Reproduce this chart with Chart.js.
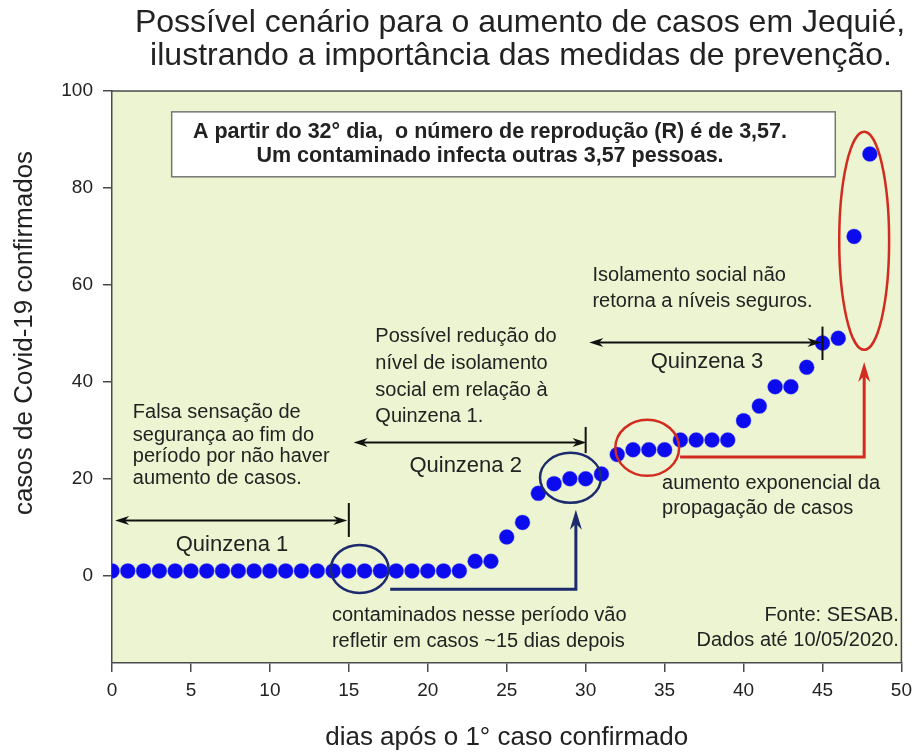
<!DOCTYPE html>
<html>
<head>
<meta charset="utf-8">
<script src="https://cdn.jsdelivr.net/npm/chart.js@4.4.1/dist/chart.umd.min.js"></script>
<style>
html, body { margin: 0; padding: 0; background: #fff; }
</style>
</head>
<body>
<canvas id="chart" width="919" height="753"></canvas>
<script>
// dias após o 1° caso e casos confirmados
var days = [0,1,2,3,4,5,6,7,8,9,10,11,12,13,14,15,16,17,18,19,20,21,22,23,24,
            25,26,27,28,29,30,31,32,33,34,35,36,37,38,39,40,41,42,43,44,45,46,47,48];
var cases = [1,1,1,1,1,1,1,1,1,1,1,1,1,1,1,1,1,1,1,1,1,1,1,3,3,
             8,11,17,19,20,20,21,25,26,26,26,28,28,28,28,32,35,39,39,43,48,49,70,87];
var xTicks = [0,5,10,15,20,25,30,35,40,45,50];
var yTicks = [0,20,40,60,80,100];

var titleLines = ['Possível cenário para o aumento de casos em Jequié,',
                  'ilustrando a importância das medidas de prevenção.'];
var xTitle = 'dias após o 1° caso confirmado';
var yTitle = 'casos de Covid-19 confirmados';
var boxLines = ['A partir do 32° dia,  o número de reprodução (R) é de 3,57.',
                'Um contaminado infecta outras 3,57 pessoas.'];

var FONT = '"Liberation Sans", Arial, sans-serif';
var INK = '#222';
var NAVY = '#1c2a6e';
var RED = '#d22b1f';

function text(ctx, s, x, y, size, align, bold) {
	ctx.font = (bold ? 'bold ' : '') + size + 'px ' + FONT;
	ctx.fillStyle = INK;
	ctx.textAlign = align || 'left';
	ctx.textBaseline = 'middle';
	ctx.fillText(s, x, y);
}

function head(ctx, x, y, dx, dy, len, half) {
	// ponta de seta em (x,y), apontando na direção (dx,dy)
	var px = -dy, py = dx;
	ctx.beginPath();
	ctx.moveTo(x, y);
	ctx.lineTo(x - dx * len + px * half, y - dy * len + py * half);
	ctx.lineTo(x - dx * len * 0.7, y - dy * len * 0.7);
	ctx.lineTo(x - dx * len - px * half, y - dy * len - py * half);
	ctx.closePath();
	ctx.fill();
}

function ellipse(ctx, cx, cy, rx, ry, color) {
	ctx.strokeStyle = color;
	ctx.lineWidth = 2.5;
	ctx.beginPath();
	ctx.ellipse(cx, cy, rx, ry, 0, 0, Math.PI * 2);
	ctx.stroke();
}

var notes = {
	id: 'notes',
	beforeDraw: function (chart) {
		var a = chart.chartArea, ctx = chart.ctx;
		ctx.save();
		ctx.fillStyle = '#fff';
		ctx.fillRect(0, 0, chart.width, chart.height);
		ctx.fillStyle = '#ecf4d1';
		ctx.fillRect(a.left, a.top, a.right - a.left, a.bottom - a.top);
		ctx.restore();
	},
	beforeDatasetsDraw: function (chart) {
		var a = chart.chartArea, ctx = chart.ctx;
		ctx.save();
		ctx.strokeStyle = '#4a4a4a';
		ctx.lineWidth = 1.5;
		ctx.beginPath();
		ctx.moveTo(a.left, a.top);
		ctx.lineTo(a.right, a.top);
		ctx.lineTo(a.right, a.bottom);
		ctx.stroke();
		ctx.restore();
	},
	afterDatasetsDraw: function (chart) {
		var ctx = chart.ctx;
		var X = function (v) { return chart.scales.x.getPixelForValue(v); };
		var Y = function (v) { return chart.scales.y.getPixelForValue(v); };
		ctx.save();

		// caixa do R
		ctx.fillStyle = '#fff';
		ctx.fillRect(X(3.78), Y(95.7), X(45.81) - X(3.78), Y(82.3) - Y(95.7));
		ctx.strokeStyle = '#777';
		ctx.lineWidth = 1.5;
		ctx.strokeRect(X(3.78), Y(95.7), X(45.81) - X(3.78), Y(82.3) - Y(95.7));
		text(ctx, boxLines[0], X(23.94), Y(91.6), 21.5, 'center', true);
		text(ctx, boxLines[1], X(23.94), Y(86.5), 21.5, 'center', true);

		// quinzenas
		var quinz = [[0.2, 14.9, 11.4, 15, 15.0, 8.0, 'Quinzena 1', 7.6, 6.3],
		             [15.3, 30.05, 27.5, 30, 30.7, 25.3, 'Quinzena 2', 22.4, 22.6],
		             [30.23, 44.93, 48.1, 45, 51.4, 44.5, 'Quinzena 3', 37.68, 44.1]];
		quinz.forEach(function (q) {
			var x1 = X(q[0]), x2 = X(q[1]), y = Y(q[2]);
			ctx.strokeStyle = '#111';
			ctx.fillStyle = '#111';
			ctx.lineWidth = 2;
			ctx.beginPath();
			ctx.moveTo(x1 + 6, y);
			ctx.lineTo(x2 - 6, y);
			ctx.stroke();
			head(ctx, x1, y, -1, 0, 14, 4.5);
			head(ctx, x2, y, 1, 0, 14, 4.5);
			ctx.beginPath();
			ctx.moveTo(X(q[3]), Y(q[4]));
			ctx.lineTo(X(q[3]), Y(q[5]));
			ctx.stroke();
			text(ctx, q[6], X(q[7]), Y(q[8]), 22, 'center');
		});

		// elipses e seta azul-escuras
		ellipse(ctx, X(15.69), Y(1.4), X(1.83) - X(0), Y(0) - Y(4.95), NAVY);
		ellipse(ctx, X(29.04), Y(20.2), X(1.93) - X(0), Y(0) - Y(5.16), NAVY);
		ctx.strokeStyle = NAVY;
		ctx.fillStyle = NAVY;
		ctx.lineWidth = 3;
		ctx.beginPath();
		ctx.moveTo(X(17.62), Y(-2.8));
		ctx.lineTo(X(29.38), Y(-2.8));
		ctx.lineTo(X(29.38), Y(13.6) + 14);
		ctx.stroke();
		head(ctx, X(29.38), Y(13.6), 0, -1, 20, 6);

		// elipses e seta vermelhas
		ellipse(ctx, X(33.9), Y(26.4), X(2.02) - X(0), Y(0) - Y(5.78), RED);
		ellipse(ctx, X(47.64), Y(69.1), X(1.58) - X(0), Y(0) - Y(22.5), RED);
		ctx.strokeStyle = RED;
		ctx.fillStyle = RED;
		ctx.lineWidth = 3;
		ctx.beginPath();
		ctx.moveTo(X(35.98), Y(24.5));
		ctx.lineTo(X(47.64), Y(24.5));
		ctx.lineTo(X(47.64), Y(44.1) + 14);
		ctx.stroke();
		head(ctx, X(47.64), Y(44.1), 0, -1, 20, 6);

		// textos
		var blocks = [
			[1.32, [33.6, 29.0, 24.5, 20.0], ['Falsa sensação de', 'segurança ao fim do', 'período por não haver', 'aumento de casos.'], 'left'],
			[16.68, [49.3, 43.8, 38.3, 32.8], ['Possível redução do', 'nível de isolamento', 'social em relação à', 'Quinzena 1.'], 'left'],
			[30.43, [62.0, 56.5], ['Isolamento social não', 'retorna a níveis seguros.'], 'left'],
			[34.84, [19.1, 13.9], ['aumento exponencial da', 'propagação de casos'], 'left'],
			[13.93, [-8.1, -13.5], ['contaminados nesse período vão', 'refletir em casos ~15 dias depois'], 'left'],
			[49.84, [-8.1, -13.3], ['Fonte: SESAB.', 'Dados até 10/05/2020.'], 'right']
		];
		blocks.forEach(function (b) {
			b[2].forEach(function (s, i) {
				text(ctx, s, X(b[0]), Y(b[1][i]), 20, b[3]);
			});
		});
		ctx.restore();
	},
	afterDraw: function (chart) {
		var ctx = chart.ctx, a = chart.chartArea;
		ctx.save();
		ctx.font = '32px ' + FONT;
		ctx.fillStyle = INK;
		ctx.textAlign = 'center';
		ctx.textBaseline = 'alphabetic';
		ctx.fillText(titleLines[0], 520, 32);
		ctx.fillText(titleLines[1], 521, 65);
		ctx.font = '26px ' + FONT;
		ctx.textBaseline = 'middle';
		ctx.fillText(xTitle, (a.left + a.right) / 2, 738);
		ctx.translate(25, 333);
		ctx.rotate(-Math.PI / 2);
		ctx.fillText(yTitle, 0, 0);
		ctx.restore();
	}
};

new Chart(document.getElementById('chart').getContext('2d'), {
	type: 'scatter',
	data: {
		datasets: [{
			label: 'casos confirmados',
			data: days.map(function (d, i) { return { x: d, y: cases[i] }; }),
			backgroundColor: '#0b0bee',
			borderColor: 'rgba(80, 80, 255, 0.35)',
			borderWidth: 1,
			pointRadius: 7.5,
			pointHoverRadius: 7.5
		}]
	},
	options: {
		responsive: false,
		animation: false,
		layout: { padding: { top: 91, right: 13, bottom: 0, left: 0 } },
		plugins: { legend: { display: false }, tooltip: { enabled: false } },
		scales: {
			x: {
				type: 'linear',
				min: 0,
				max: 50,
				afterBuildTicks: function (s) { s.ticks = xTicks.map(function (v) { return { value: v }; }); },
				afterFit: function (s) { s.height = 90; },
				grid: { drawOnChartArea: false, tickLength: 9, color: '#4a4a4a', lineWidth: 1.5 },
				border: { color: '#4a4a4a', width: 1.5 },
				ticks: { color: INK, font: { family: FONT, size: 19 }, padding: 7, maxRotation: 0 }
			},
			y: {
				type: 'linear',
				min: -18,
				max: 100,
				afterBuildTicks: function (s) { s.ticks = yTicks.map(function (v) { return { value: v }; }); },
				afterFit: function (s) { s.width = 112; },
				grid: { drawOnChartArea: false, tickLength: 9, color: '#4a4a4a', lineWidth: 1.5 },
				border: { color: '#4a4a4a', width: 1.5 },
				ticks: { color: INK, font: { family: FONT, size: 19 }, padding: 10 }
			}
		}
	},
	plugins: [notes]
});
</script>
</body>
</html>
